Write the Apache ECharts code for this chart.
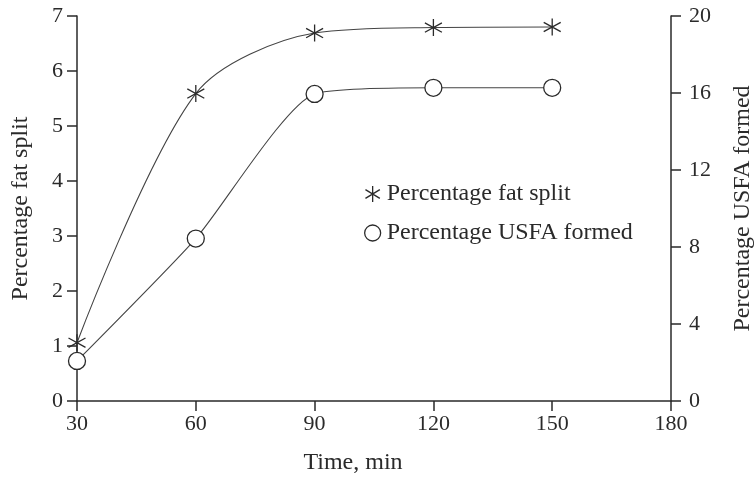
<!DOCTYPE html>
<html>
<head>
<meta charset="utf-8">
<script src="https://cdn.jsdelivr.net/npm/echarts@6/dist/echarts.min.js"></script>
<style>html,body{margin:0;padding:0;background:#fff}#c{width:754px;height:480px}</style>
</head>
<body>
<div id="c"></div>
<script>
const times = [30, 60, 90, 120, 150];
const fatSplit = [1.06, 5.59, 6.69, 6.79, 6.80];
const usfaFormed = [2.08, 8.44, 15.95, 16.27, 16.27];
const leftTicks = { min: 0, max: 7, interval: 1 };
const rightTicks = { min: 0, max: 20, interval: 4 };
const xTicks = { min: 30, max: 180, interval: 30 };
const seriesNames = ['Percentage fat split', 'Percentage USFA formed'];
const axisNames = { x: 'Time, min', left: 'Percentage fat split', right: 'Percentage USFA formed' };

const FONT = 'Liberation Serif';
const INK = '#2a2a2a';
const LINE = '#444';
const STAR = 'path://M0,-10L0,10M-9,-5.5L9,5.5M-9,5.5L9,-5.5';

const axisCommon = {
  axisLine: { show: true, lineStyle: { color: INK, width: 1.5 } },
  axisTick: { show: true, length: 10, lineStyle: { color: INK, width: 1.5 } },
  splitLine: { show: false },
  axisLabel: { color: INK, fontFamily: FONT, fontSize: 22 },
  nameTextStyle: { color: INK, fontFamily: FONT, fontSize: 24 }
};

const chart = echarts.init(document.getElementById('c'), null, { renderer: 'canvas' });
chart.setOption({
  backgroundColor: '#fff',
  animation: false,
  grid: { left: 77, right: 83, top: 16, bottom: 79, containLabel: false, outerBoundsMode: 'none' },
  legend: {
    orient: 'vertical',
    left: 359,
    top: 177,
    itemWidth: 16,
    itemHeight: 16,
    itemGap: 15,
    textStyle: { color: INK, fontFamily: FONT, fontSize: 24, padding: [0, 0, 0, 1] },
    data: [
      { name: seriesNames[0], icon: STAR, itemStyle: { color: 'rgba(0,0,0,0)', borderColor: INK, borderWidth: 1.3 } },
      { name: seriesNames[1], icon: 'circle', itemStyle: { color: '#fff', borderColor: INK, borderWidth: 1.3 } }
    ]
  },
  xAxis: Object.assign({}, axisCommon, {
    type: 'value',
    min: xTicks.min, max: xTicks.max, interval: xTicks.interval,
    name: axisNames.x,
    nameLocation: 'middle',
    nameGap: 50,
    nameTextStyle: Object.assign({}, axisCommon.nameTextStyle, { padding: [0, 42, 0, 0] }),
    axisLabel: Object.assign({}, axisCommon.axisLabel, { margin: 12 })
  }),
  yAxis: [
    Object.assign({}, axisCommon, {
      type: 'value',
      position: 'left',
      min: leftTicks.min, max: leftTicks.max, interval: leftTicks.interval,
      name: axisNames.left,
      nameLocation: 'middle',
      nameRotate: 90,
      nameGap: 44,
      axisLabel: Object.assign({}, axisCommon.axisLabel, { margin: 14 })
    }),
    Object.assign({}, axisCommon, {
      type: 'value',
      position: 'right',
      min: rightTicks.min, max: rightTicks.max, interval: rightTicks.interval,
      name: axisNames.right,
      nameLocation: 'middle',
      nameRotate: 90,
      nameGap: 60,
      axisLabel: Object.assign({}, axisCommon.axisLabel, { margin: 18 })
    })
  ],
  series: [
    {
      name: seriesNames[0],
      type: 'line',
      yAxisIndex: 0,
      smooth: 0.3,
      data: times.map((t, i) => [t, fatSplit[i]]),
      symbol: STAR,
      symbolSize: 17,
      showAllSymbol: true,
      lineStyle: { color: LINE, width: 1.1 },
      itemStyle: { color: 'rgba(0,0,0,0)', borderColor: INK, borderWidth: 1.3 },
      z: 3
    },
    {
      name: seriesNames[1],
      type: 'line',
      yAxisIndex: 1,
      smooth: 0.2,
      data: times.map((t, i) => [t, usfaFormed[i]]),
      symbol: 'circle',
      symbolSize: 17,
      showAllSymbol: true,
      lineStyle: { color: LINE, width: 1.1 },
      itemStyle: { color: '#fff', borderColor: INK, borderWidth: 1.3 },
      z: 3
    }
  ]
});
</script>
</body>
</html>
